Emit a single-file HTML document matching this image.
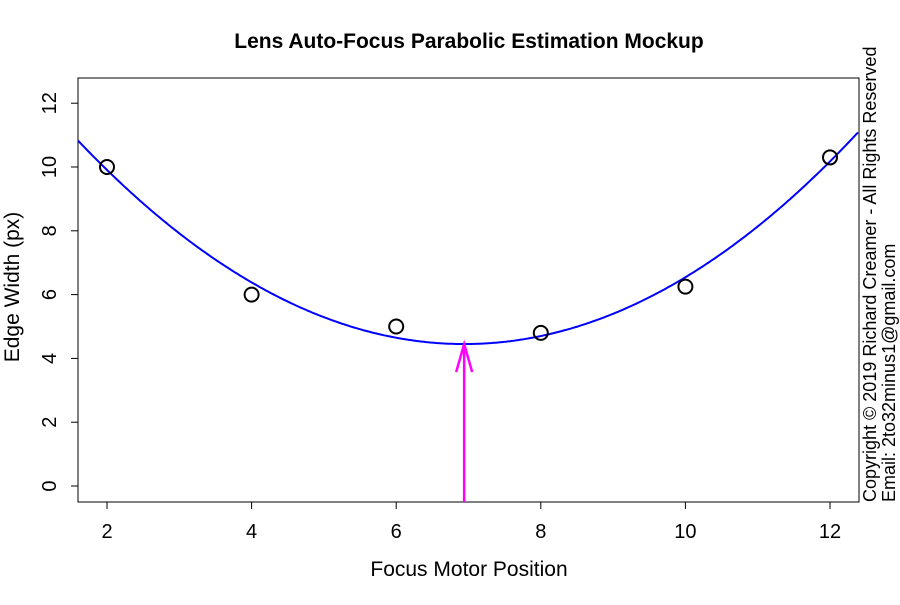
<!DOCTYPE html>
<html><head><meta charset="utf-8"><style>
body{margin:0;background:#fff}
svg text{font-family:"Liberation Sans",Arial,sans-serif;fill:#000}
</style></head><body>
<svg id="chart" width="900" height="600">
<text x="469" y="48" text-anchor="middle" font-size="21" font-weight="bold">Lens Auto-Focus Parabolic Estimation Mockup</text>
<rect x="78" y="78" width="781" height="424" fill="none" stroke="#000" stroke-width="1"/>
<g id="xaxis"></g>
<g id="yaxis"></g>
<text x="469" y="576" text-anchor="middle" font-size="21">Focus Motor Position</text>
<text transform="translate(19,287) rotate(-90)" text-anchor="middle" font-size="21">Edge Width (px)</text>
<g id="marks"></g>
<text transform="translate(876,502) rotate(-90)" font-size="18">Copyright © 2019 Richard Creamer - All Rights Reserved</text>
<text transform="translate(895,502) rotate(-90)" font-size="18">Email: 2to32minus1@gmail.com</text>
</svg>
<script>
const xs=[2,4,6,8,10,12];
const ys=[10,6,5,4.8,6.25,10.3];
const fitCoef=[0.2236,6.94,4.45]; // a, vertex x, vertex y
const xTicks=[2,4,6,8,10,12];
const yTicks=[0,2,4,6,8,10,12];
const X=v=>107+(v-2)*72.3;
const Y=v=>486-v*31.9;
const NS="http://www.w3.org/2000/svg";
function mk(t,a,p){const e=document.createElementNS(NS,t);for(const k in a)e.setAttribute(k,a[k]);p.appendChild(e);return e;}
const xa=document.getElementById('xaxis'),ya=document.getElementById('yaxis'),m=document.getElementById('marks');
mk('line',{x1:X(2),x2:X(12),y1:502,y2:502,stroke:'#000'},xa);
xTicks.forEach(t=>{mk('line',{x1:X(t),x2:X(t),y1:502,y2:509,stroke:'#000'},xa);
const tx=mk('text',{x:X(t),y:538,'text-anchor':'middle','font-size':20},xa);tx.textContent=t;

});
mk('line',{x1:78,x2:78,y1:Y(0),y2:Y(12),stroke:'#000'},ya);
yTicks.forEach(t=>{mk('line',{x1:71,x2:78,y1:Y(t),y2:Y(t),stroke:'#000'},ya);
const tx=mk('text',{transform:`translate(56,${Y(t)}) rotate(-90)`,'text-anchor':'middle','font-size':20},ya);tx.textContent=t;

});
const [a,h,k]=fitCoef;let d='';
for(let px=78;px<=859;px+=2){const v=2+(px-107)/72.3;const y=a*(v-h)**2+k;d+=(d?'L':'M')+px+','+Y(y).toFixed(1);}
const cp=document.createElementNS(NS,'clipPath');cp.id='clip';mk('rect',{x:78,y:78,width:781,height:424},cp);m.appendChild(cp);
const curve=mk('path',{d:d,fill:'none',stroke:'#0000ff','stroke-width':2,'clip-path':'url(#clip)'},m);


xs.forEach((x,i)=>{const c=mk('circle',{cx:X(x),cy:Y(ys[i]),r:7,fill:'none',stroke:'#000','stroke-width':2},m);

});
const ax=X(h),ay=Y(k);
const ar=mk('path',{d:`M${ax},502L${ax},${ay}M${ax-8},${ay+28}L${ax},${ay}L${ax+8},${ay+28}`,fill:'none',stroke:'#ff00ff','stroke-width':2.5},m);


</script>
</body></html>
